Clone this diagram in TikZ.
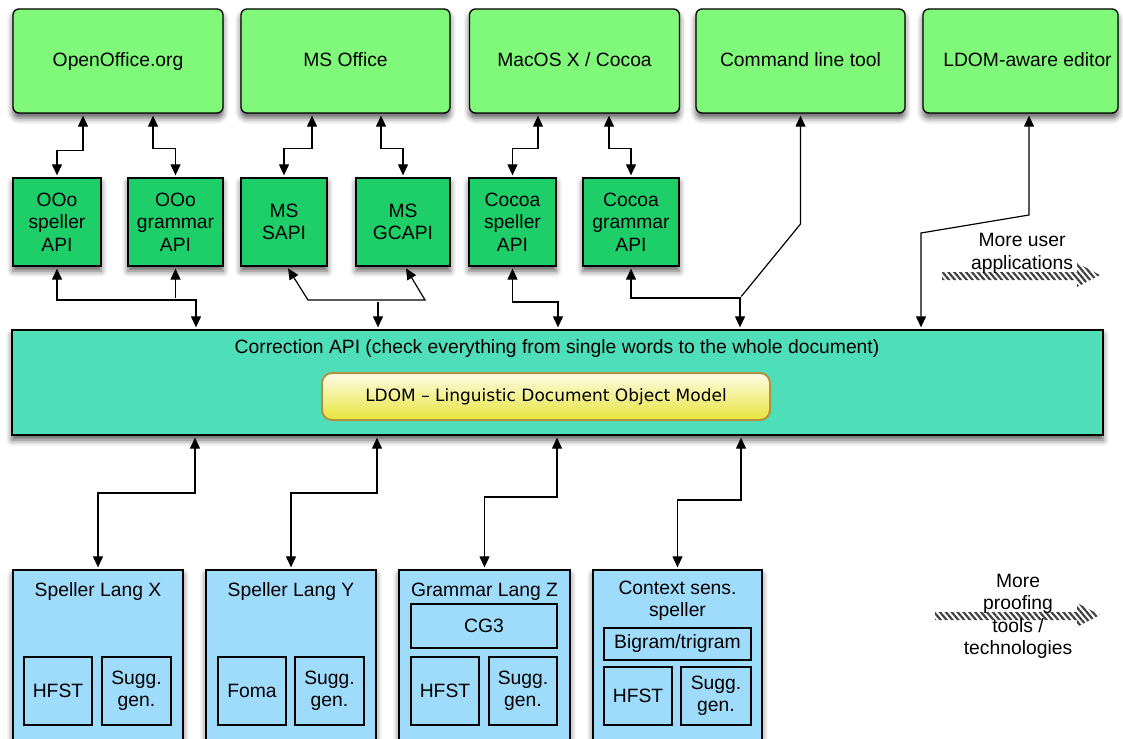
\documentclass[tikz,border=0pt]{standalone}
\usepackage{fontspec}
\setmainfont{Liberation Sans}
\newfontfamily\ldomfont{DejaVu Sans}
\usetikzlibrary{arrows.meta,shadows.blur,patterns.meta}
\definecolor{appgreen}{RGB}{128,249,122}
\definecolor{apigreen}{RGB}{30,207,105}
\definecolor{corrteal}{RGB}{78,222,184}
\definecolor{toolblue}{RGB}{159,219,251}
\definecolor{ldomtop}{RGB}{253,252,232}
\definecolor{ldombot}{RGB}{232,228,58}
\definecolor{ldomrim}{RGB}{178,146,66}
\begin{document}
\begin{tikzpicture}[x=1pt, y=-1pt, font=\fontsize{19.3}{22.5}\selectfont,
    >={Triangle[length=11pt,width=10pt]}]
  \tikzset{softshadow/.style={blur shadow={shadow xshift=0pt, shadow yshift=-5pt, shadow blur radius=6pt, shadow opacity=65}},
    app/.style={draw, line width=1.3pt, rounded corners=6pt, fill=appgreen, minimum height=104pt, text height=14pt, text depth=2pt, softshadow},
    api/.style={draw, line width=1.3pt, fill=apigreen, align=center, minimum height=88pt, softshadow},
    tool/.style={draw, line width=1.3pt, fill=toolblue, minimum width=170pt, minimum height=200pt, softshadow},
    part/.style={draw, line width=1.2pt, fill=toolblue, align=center},
    conn/.style={line width=1.2pt, shorten <=2pt, shorten >=2pt},
    hatch/.style={pattern={Lines[angle=-50,distance=4.5pt,line width=2.2pt]}, pattern color=black!75}}
  \useasboundingbox (0,0) rectangle (1123,738);
  \clip (0,0) rectangle (1123,738);

  % applications
  \node[app, minimum width=210pt] at (118,61) (ooo) {OpenOffice.org};
  \node[app, minimum width=209pt] at (345.5,61) (ms) {MS Office};
  \node[app, minimum width=210pt] at (574.5,61) (mac) {MacOS X / Cocoa};
  \node[app, minimum width=209pt] at (800.5,61) (cmd) {Command line tool};
  \node[app, minimum width=195pt] at (1020.5,61) (editor) {\hspace*{14pt}LDOM-aware editor};

  % platform APIs
  \node[api, minimum width=88pt] at (57,222) (oooSp) {OOo\\speller\\API};
  \node[api, minimum width=95pt] at (175.5,222) (oooGr) {OOo\\grammar\\API};
  \node[api, minimum width=86pt] at (284,222) (msSapi) {MS\\SAPI};
  \node[api, minimum width=94pt] at (403,222) (msGc) {MS\\GCAPI};
  \node[api, minimum width=87pt] at (512.5,222) (cocSp) {Cocoa\\speller\\API};
  \node[api, minimum width=96pt] at (631,222) (cocGr) {Cocoa\\grammar\\API};

  % correction layer
  \node[draw, line width=1.3pt, fill=corrteal, minimum width=1091pt, minimum height=105pt, softshadow] at (557.5,382.5) (corr) {};
  \node at (557,349) (corrTitle) {Correction API (check everything from single words to the whole document)};
  \node[draw=ldomrim, line width=2pt, rounded corners=10pt, top color=ldomtop, bottom color=ldombot, minimum width=448pt, minimum height=47pt, font=\ldomfont\fontsize{17}{20}\selectfont] at (546,396.5) (ldom) {LDOM – Linguistic Document Object Model};

  % proofing tools
  \node[tool] at (98,670) (spX) {};
  \node[tool] at (291,670) (spY) {};
  \node[tool, minimum width=171pt] at (484.5,670) (grZ) {};
  \node[tool, minimum width=169pt] at (677.5,670) (ctx) {};
  \node at (98,592) (spXTitle) {Speller Lang X};
  \node at (291,592) (spYTitle) {Speller Lang Y};
  \node at (484.5,592) (grZTitle) {Grammar Lang Z};
  \node[align=center] at (677.5,601) (ctxTitle) {Context sens.\\speller};
  \node[part, minimum width=68pt, minimum height=68pt] at (58,691) (spXfst) {HFST};
  \node[part, minimum width=69pt, minimum height=68pt] at (136.5,691) (spXgen) {Sugg.\\gen.};
  \node[part, minimum width=68pt, minimum height=68pt] at (252,691) (spYfoma) {Foma};
  \node[part, minimum width=69pt, minimum height=68pt] at (329.5,691) (spYgen) {Sugg.\\gen.};
  \node[part, minimum width=146pt, minimum height=44pt] at (484,626) (grZcg) {CG3};
  \node[part, minimum width=68pt, minimum height=68pt] at (445,691) (grZfst) {HFST};
  \node[part, minimum width=68pt, minimum height=68pt] at (523,691) (grZgen) {Sugg.\\gen.};
  \node[part, minimum width=147pt, minimum height=32pt] at (677.5,644) (ctxgram) {Bigram/trigram};
  \node[part, minimum width=68pt, minimum height=58pt] at (638,696) (ctxfst) {HFST};
  \node[part, minimum width=70pt, minimum height=58pt] at (716,696) (ctxgen) {Sugg.\\gen.};

  % more to come
  \fill[hatch] (942,272) -- (1077,272) -- (1077,263) -- (1100,275) -- (1077,287) -- (1077,280) -- (942,280) -- cycle;
  \node[align=center] at (1022,253.5) (moreApps) {More user\\applications};
  \fill[hatch] (935,612) -- (1077,612) -- (1077,603) -- (1100,615) -- (1077,627) -- (1077,620) -- (935,620) -- cycle;
  \node[align=center] at (1018,616.5) (moreTools) {More\\proofing\\tools /\\technologies};

  % applications <-> APIs
  \draw[conn, <->] ([xshift=-35pt]ooo.south) -- ++(0,37) -| (oooSp.north);
  \draw[conn, <->] ([xshift=35pt]ooo.south) -- ++(0,35) -| (oooGr.north);
  \draw[conn, <->] ([xshift=-33.5pt]ms.south) -- ++(0,35) -| (msSapi.north);
  \draw[conn, <->] ([xshift=35.5pt]ms.south) -- ++(0,35) -| (msGc.north);
  \draw[conn, <->] ([xshift=-36.5pt]mac.south) -- ++(0,35) -| (cocSp.north);
  \draw[conn, <->] ([xshift=34.5pt]mac.south) -- ++(0,35) -| (cocGr.north);

  % APIs <-> correction API
  \coordinate (jOOo) at (196,300);
  \coordinate (jMS) at (378,300);
  \coordinate (msL) at (308,300);
  \coordinate (msR) at (425,300);
  \coordinate (jCoc) at (558,302);
  \coordinate (jCmd) at (740,298);
  \coordinate (cmdBend) at (800.5,224);
  \coordinate (edBend) at (1029,215);
  \coordinate (edKnee) at (921,233);
  \draw[conn, <->] (oooSp.south) |- (jOOo) -- (jOOo |- corr.north);
  \draw[conn, ->] (oooGr.south |- jOOo) -- (oooGr.south);
  \draw[conn, <->] ([xshift=3pt]msSapi.south) -- (msL) -- (msR) -- ([xshift=2pt]msGc.south);
  \draw[conn, ->] (jMS) -- (jMS |- corr.north);
  \draw[conn, <->] (cocSp.south) |- (jCoc) -- (jCoc |- corr.north);
  \draw[conn, <->] (cocGr.south) |- (jCmd) -- (jCmd |- corr.north);
  \draw[conn, ->] (jCmd) -- (cmdBend) -- (cmd.south);
  \draw[conn, <->] ([xshift=8.5pt]editor.south) -- (edBend) -- (edKnee) -- (edKnee |- corr.north);

  % correction API <-> tools
  \coordinate (kX) at (195,493);
  \coordinate (kY) at (377,493);
  \coordinate (kZ) at (557,497);
  \coordinate (kC) at (741,500);
  \draw[conn, <->] (kX |- corr.south) -- (kX) -| (spX.north);
  \draw[conn, <->] (kY |- corr.south) -- (kY) -| (spY.north);
  \draw[conn, <->] (kZ |- corr.south) -- (kZ) -| (grZ.north);
  \draw[conn, <->] (kC |- corr.south) -- (kC) -| (ctx.north);
\end{tikzpicture}
\end{document}
